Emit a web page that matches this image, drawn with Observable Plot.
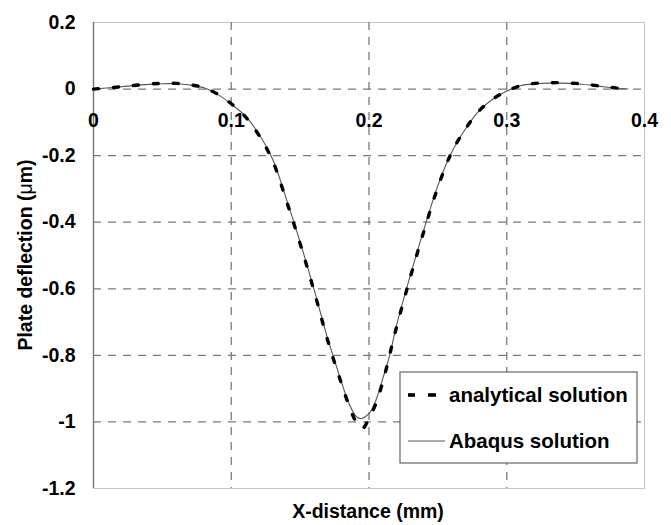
<!DOCTYPE html>
<html>
<head>
<meta charset="utf-8">
<script src="https://cdn.jsdelivr.net/npm/d3@7"></script>
<script src="https://cdn.jsdelivr.net/npm/@observablehq/plot@0.6"></script>
<style>
  html, body { margin: 0; padding: 0; background: white; }
</style>
</head>
<body>
<div id="chart"></div>
<script>
// ---- data ----
const xTicks = [0, 0.1, 0.2, 0.3, 0.4];
const xTickLabels = ["0", "0.1", "0.2", "0.3", "0.4"];
const yTicks = [0.2, 0, -0.2, -0.4, -0.6, -0.8, -1, -1.2];
const yTickLabels = ["0.2", "0", "-0.2", "-0.4", "-0.6", "-0.8", "-1", "-1.2"];
const xGrid = [0.1, 0.2, 0.3];
const yGrid = [0, -0.2, -0.4, -0.6, -0.8, -1];

const abaqusX = [0, 0.02, 0.04, 0.05, 0.06, 0.07, 0.08, 0.09, 0.10, 0.11, 0.12, 0.13, 0.14, 0.15, 0.16, 0.17, 0.175, 0.18, 0.185, 0.19, 0.1935, 0.20, 0.205, 0.21, 0.215, 0.22, 0.23, 0.24, 0.25, 0.26, 0.27, 0.28, 0.29, 0.30, 0.31, 0.32, 0.33, 0.34, 0.35, 0.36, 0.37, 0.38, 0.388];
const abaqusY = [0, 0.007, 0.014, 0.016, 0.016, 0.012, 0.004, -0.016, -0.045, -0.080, -0.135, -0.210, -0.330, -0.460, -0.600, -0.750, -0.815, -0.880, -0.940, -0.980, -0.990, -0.975, -0.935, -0.870, -0.800, -0.710, -0.560, -0.420, -0.290, -0.190, -0.120, -0.065, -0.030, -0.006, 0.010, 0.016, 0.018, 0.018, 0.016, 0.012, 0.007, 0.003, 0];

const analyticalX = [0, 0.02, 0.04, 0.05, 0.06, 0.07, 0.08, 0.09, 0.10, 0.11, 0.12, 0.13, 0.14, 0.15, 0.16, 0.17, 0.18, 0.185, 0.19, 0.195, 0.20, 0.205, 0.21, 0.22, 0.23, 0.24, 0.25, 0.26, 0.27, 0.28, 0.29, 0.30, 0.31, 0.32, 0.33, 0.34, 0.35, 0.36, 0.37, 0.38, 0.388];
const analyticalY = [0, 0.007, 0.015, 0.017, 0.017, 0.013, 0.004, -0.015, -0.044, -0.082, -0.138, -0.215, -0.335, -0.465, -0.605, -0.755, -0.885, -0.945, -0.995, -1.020, -0.990, -0.945, -0.880, -0.715, -0.565, -0.425, -0.295, -0.190, -0.120, -0.065, -0.030, -0.006, 0.010, 0.017, 0.019, 0.019, 0.017, 0.013, 0.008, 0.003, 0];

const seriesNames = ["analytical solution", "Abaqus solution"];

const abaqus = abaqusX.map((x, i) => ({x, y: abaqusY[i]}));
const analytical = analyticalX.map((x, i) => ({x, y: analyticalY[i]}));
const xLabelRows = xTicks.map((x, i) => ({x, label: xTickLabels[i]}));

const FONT = "'Liberation Sans', Arial, Helvetica, sans-serif";
const gridStyle = {stroke: "#7a7a7a", strokeWidth: 1.3, strokeDasharray: "8,7", strokeOpacity: 1};

const chart = Plot.plot({
  width: 671,
  height: 525,
  marginLeft: 93,
  marginRight: 27,
  marginTop: 22,
  marginBottom: 37,
  style: {fontFamily: FONT, fontSize: "19.5px", fontWeight: "bold", background: "white", color: "black", overflow: "visible"},
  x: {domain: [0, 0.4], axis: null},
  y: {domain: [-1.2, 0.2], axis: null},
  marks: [
    Plot.ruleY(yGrid, gridStyle),
    Plot.ruleX(xGrid, gridStyle),
    Plot.frame({stroke: "#8a8a8a", strokeWidth: 1, strokeDasharray: "1,1"}),
    Plot.ruleX([0], {stroke: "#777", strokeWidth: 1.4}),
    Plot.axisY(yTicks, {tickSize: 0, tickPadding: 18, label: null, tickFormat: (d, i) => yTickLabels[i], fontSize: 19.5, fontWeight: "bold", fill: "black"}),
    Plot.text(xLabelRows, {x: "x", y: () => 0, text: "label", dy: 32, fontSize: 19.5, fontWeight: "bold", fill: "black"}),
    Plot.line(abaqus, {x: "x", y: "y", stroke: "#555", strokeWidth: 1.1, curve: "catmull-rom"}),
    Plot.line(analytical, {x: "x", y: "y", stroke: "black", strokeWidth: 3.4, strokeDasharray: "5,15", curve: "catmull-rom"})
  ]
});

document.getElementById("chart").appendChild(chart);

// ---- titles and legend (layout only) ----
const svg = d3.select(chart);
svg.append("text")
  .attr("x", 368).attr("y", 518)
  .attr("text-anchor", "middle")
  .style("font-family", FONT).style("font-size", "19.5px").style("font-weight", "bold")
  .text("X-distance (mm)");

const yt = svg.append("text")
  .attr("transform", "translate(32,255) rotate(-90)")
  .attr("text-anchor", "middle")
  .style("font-family", FONT).style("font-size", "19.5px").style("font-weight", "bold");
yt.append("tspan").text("Plate deflection (");
yt.append("tspan").style("font-weight", "normal").text("μ");
yt.append("tspan").text("m)");

const lg = svg.append("g").attr("text-anchor", "start");
lg.append("rect").attr("x", 400).attr("y", 372).attr("width", 237).attr("height", 91)
  .attr("fill", "white").attr("stroke", "#666").attr("stroke-width", 1.2);
[[408, 415], [428, 436]].forEach(([a, b]) => {
  lg.append("line").attr("x1", a).attr("x2", b).attr("y1", 395).attr("y2", 395)
    .attr("stroke", "black").attr("stroke-width", 3.6);
});
lg.append("line").attr("x1", 408).attr("x2", 445).attr("y1", 441).attr("y2", 441)
  .attr("stroke", "#555").attr("stroke-width", 1.1);
lg.append("text").attr("x", 449).attr("y", 402).attr("text-anchor", "start")
  .style("font-family", FONT).style("font-size", "20.5px").style("font-weight", "bold")
  .text(seriesNames[0]);
lg.append("text").attr("x", 449).attr("y", 448).attr("text-anchor", "start")
  .style("font-family", FONT).style("font-size", "20.5px").style("font-weight", "bold")
  .text(seriesNames[1]);
</script>
</body>
</html>
